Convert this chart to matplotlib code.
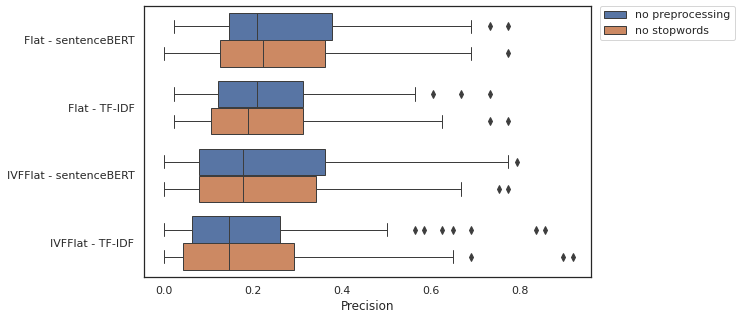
import matplotlib
matplotlib.use("Agg")
import matplotlib.pyplot as plt
import matplotlib.patches as mpatches
import seaborn as sns

sns.set_theme(style="white")

categories = ["Flat - sentenceBERT", "Flat - TF-IDF",
              "IVFFlat - sentenceBERT", "IVFFlat - TF-IDF"]
groups = ["no preprocessing", "no stopwords"]
colors = ["#5875a4", "#cc8963"]

# per group: [whislo, q1, median, q3, whishi] for each category
stats_nopre = [
    [0.021, 0.146, 0.209, 0.377, 0.690],
    [0.021, 0.121, 0.209, 0.313, 0.565],
    [0.000, 0.078, 0.177, 0.361, 0.774],
    [0.000, 0.062, 0.146, 0.261, 0.502],
]
stats_stop = [
    [0.000, 0.125, 0.221, 0.361, 0.690],
    [0.021, 0.105, 0.189, 0.313, 0.626],
    [0.000, 0.078, 0.177, 0.341, 0.669],
    [0.000, 0.041, 0.146, 0.293, 0.649],
]
fliers_nopre = [
    [0.733, 0.774],
    [0.606, 0.669, 0.733],
    [0.794],
    [0.565, 0.585, 0.626, 0.649, 0.690, 0.837, 0.857],
]
fliers_stop = [
    [0.774],
    [0.733, 0.774],
    [0.753, 0.774],
    [0.690, 0.898, 0.920],
]

fig = plt.figure(figsize=(741 / 72, 322 / 72), dpi=72)
ax = fig.add_axes([144 / 741, 45 / 322, 447 / 741, 271 / 322])

line_color = "#3d3d3d"
lw = 1.0
for g, (stats, fliers) in enumerate([(stats_nopre, fliers_nopre), (stats_stop, fliers_stop)]):
    bxp_stats = []
    for s, f in zip(stats, fliers):
        bxp_stats.append(dict(whislo=s[0], q1=s[1], med=s[2], q3=s[3], whishi=s[4], fliers=f))
    positions = [i - 0.2 + 0.4 * g for i in range(len(categories))]
    ax.bxp(bxp_stats, positions=positions, widths=0.392, vert=False,
           patch_artist=True, showcaps=True,
           boxprops=dict(facecolor=colors[g], edgecolor=line_color, linewidth=lw),
           medianprops=dict(color=line_color, linewidth=lw),
           whiskerprops=dict(color=line_color, linewidth=lw),
           capprops=dict(color=line_color, linewidth=lw),
           flierprops=dict(marker="d", markerfacecolor=line_color, markeredgecolor=line_color,
                           markersize=5, linestyle="none"))

ax.set_yticks(range(len(categories)))
ax.set_yticklabels(categories, fontsize=11)
ax.set_ylim(len(categories) - 0.5, -0.5)
ax.set_xlim(-0.046, 0.961)
ax.set_xticks([0.0, 0.2, 0.4, 0.6, 0.8])
ax.set_xticklabels(["0.0", "0.2", "0.4", "0.6", "0.8"], fontsize=11)
ax.set_xlabel("Precision", fontsize=12)
for sp in ax.spines.values():
    sp.set_color("#262626")
    sp.set_linewidth(1.25)

handles = [mpatches.Patch(facecolor=c, edgecolor=line_color, linewidth=lw, label=l)
           for c, l in zip(colors, groups)]
ax.legend(handles=handles, bbox_to_anchor=(1.02, 1), loc="upper left",
          borderaxespad=0, fontsize=11)

fig.savefig("out.png", dpi=72)
